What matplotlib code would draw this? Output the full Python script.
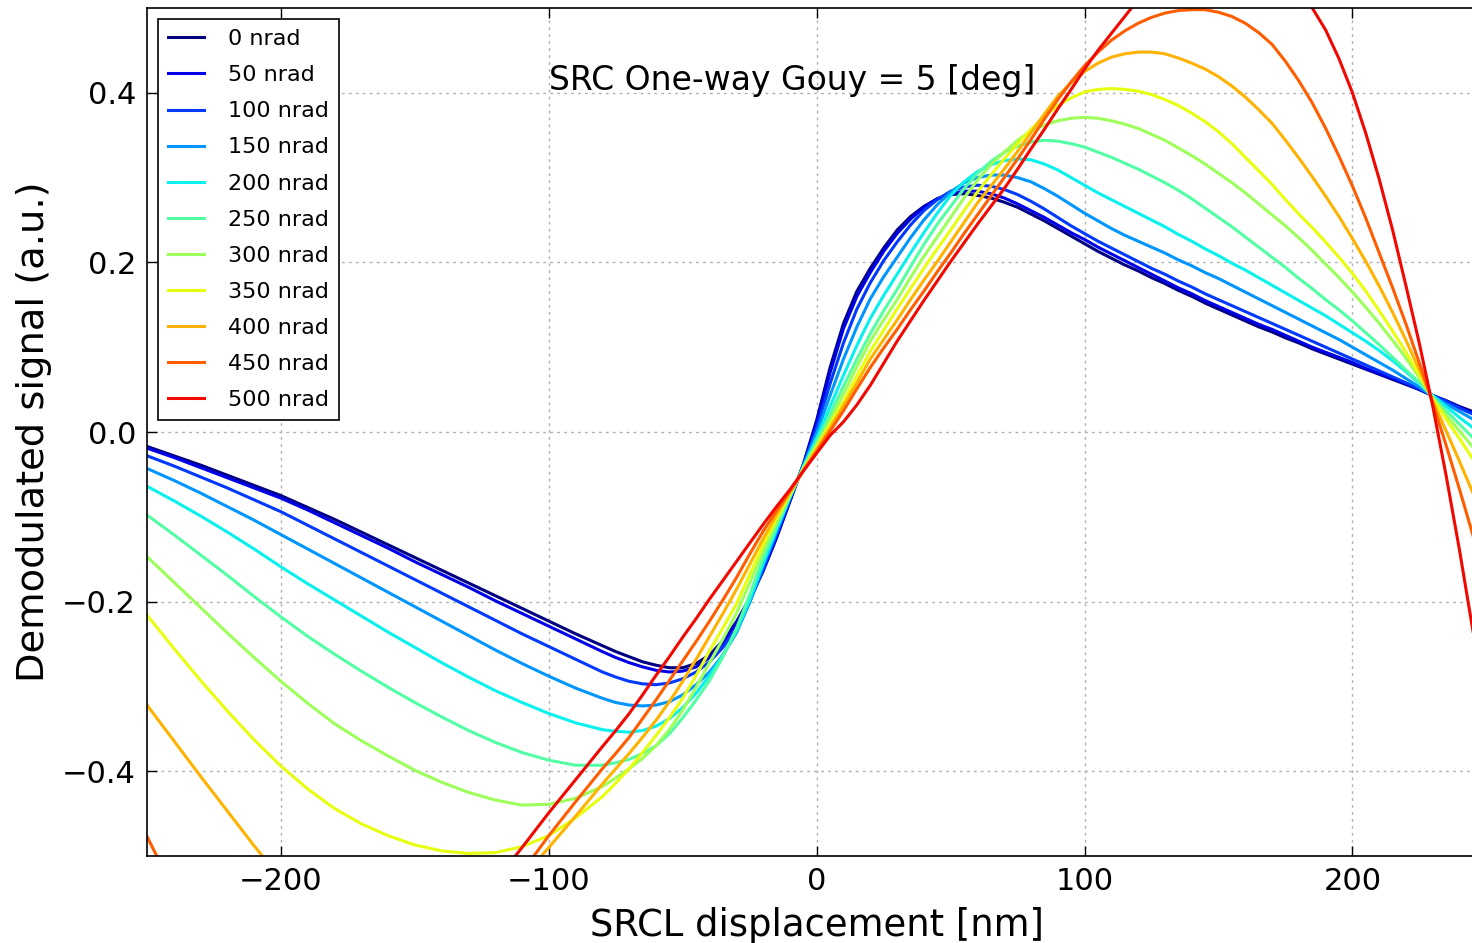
import matplotlib
matplotlib.use("Agg")
import matplotlib.pyplot as plt
import numpy as np

# SRCL displacement sample points [nm]; denser where the curves bend
x_nm = list(range(-250, -79, 10)) + list(range(-75, 251, 5))

# demodulated signal, one list per misalignment
s000 = [-0.017, -0.028, -0.039, -0.051, -0.063, -0.075, -0.089, -0.103, -0.118, -0.133,
        -0.148, -0.163, -0.178, -0.193, -0.208, -0.223, -0.238, -0.252,
        -0.259, -0.265, -0.271, -0.275, -0.278, -0.278, -0.273, -0.263, -0.246, -0.224,
        -0.196, -0.163, -0.124, -0.082, -0.038, 0.014, 0.076, 0.128, 0.166, 0.193,
        0.217, 0.238, 0.254, 0.266, 0.275, 0.280, 0.281, 0.279, 0.276, 0.271,
        0.265, 0.257, 0.249, 0.240, 0.231,
        0.222, 0.213, 0.205, 0.197, 0.190, 0.182, 0.175, 0.167, 0.160, 0.152,
        0.145, 0.138, 0.131, 0.124, 0.118,
        0.111, 0.105, 0.098, 0.092, 0.086, 0.080, 0.074, 0.068, 0.062, 0.056,
        0.050, 0.043, 0.037, 0.030, 0.024, 0.017]
s050 = [-0.019, -0.030, -0.042, -0.054, -0.066, -0.078, -0.092, -0.107, -0.122, -0.137,
        -0.153, -0.168, -0.183, -0.199, -0.214, -0.229, -0.244, -0.259,
        -0.266, -0.272, -0.277, -0.281, -0.283, -0.282, -0.277, -0.266, -0.249, -0.226,
        -0.198, -0.164, -0.125, -0.081, -0.039, 0.011, 0.070, 0.122, 0.160, 0.188,
        0.213, 0.234, 0.251, 0.265, 0.275, 0.281, 0.284, 0.284, 0.281, 0.276,
        0.269, 0.261, 0.253, 0.244, 0.235,
        0.227, 0.218, 0.210, 0.202, 0.194, 0.186, 0.178, 0.170, 0.163, 0.155,
        0.148, 0.141, 0.134, 0.127, 0.121,
        0.114, 0.107, 0.100, 0.094, 0.088, 0.082, 0.075, 0.069, 0.063, 0.057,
        0.050, 0.043, 0.036, 0.029, 0.022, 0.015]
s100 = [-0.028, -0.040, -0.053, -0.066, -0.080, -0.094, -0.110, -0.126, -0.142, -0.158,
        -0.174, -0.190, -0.206, -0.222, -0.238, -0.253, -0.268, -0.283,
        -0.289, -0.294, -0.297, -0.298, -0.296, -0.291, -0.283, -0.271, -0.254, -0.232,
        -0.200, -0.162, -0.121, -0.079, -0.039, 0.005, 0.057, 0.105, 0.145, 0.176,
        0.202, 0.224, 0.244, 0.261, 0.274, 0.284, 0.289, 0.291, 0.290, 0.286,
        0.280, 0.272, 0.263, 0.253, 0.243,
        0.234, 0.225, 0.217, 0.209, 0.201, 0.193, 0.186, 0.178, 0.171, 0.163,
        0.156, 0.149, 0.142, 0.135, 0.128,
        0.121, 0.114, 0.107, 0.100, 0.093, 0.086, 0.079, 0.072, 0.065, 0.058,
        0.051, 0.043, 0.036, 0.028, 0.021, 0.013]
s150 = [-0.043, -0.057, -0.072, -0.088, -0.104, -0.121, -0.138, -0.155, -0.172, -0.189,
        -0.206, -0.223, -0.240, -0.257, -0.273, -0.288, -0.302, -0.314,
        -0.319, -0.322, -0.323, -0.322, -0.318, -0.310, -0.298, -0.283, -0.263, -0.237,
        -0.201, -0.158, -0.118, -0.078, -0.040, -0.001, 0.043, 0.086, 0.124, 0.157,
        0.183, 0.206, 0.229, 0.250, 0.268, 0.283, 0.294, 0.300, 0.303, 0.303,
        0.300, 0.295, 0.287, 0.278, 0.268,
        0.258, 0.249, 0.240, 0.232, 0.225, 0.218, 0.211, 0.203, 0.196, 0.188,
        0.181, 0.173, 0.165, 0.157, 0.149,
        0.141, 0.133, 0.125, 0.117, 0.109, 0.100, 0.091, 0.082, 0.073, 0.063,
        0.053, 0.042, 0.033, 0.024, 0.015, 0.006]
s200 = [-0.064, -0.081, -0.099, -0.118, -0.138, -0.159, -0.179, -0.198, -0.217, -0.236,
        -0.254, -0.272, -0.289, -0.305, -0.319, -0.332, -0.343, -0.351,
        -0.353, -0.354, -0.352, -0.347, -0.338, -0.325, -0.308, -0.287, -0.263, -0.235,
        -0.198, -0.155, -0.115, -0.077, -0.041, -0.007, 0.030, 0.067, 0.102, 0.134,
        0.161, 0.186, 0.211, 0.235, 0.258, 0.279, 0.295, 0.307, 0.315, 0.320,
        0.322, 0.321, 0.316, 0.309, 0.300,
        0.291, 0.282, 0.274, 0.266, 0.258, 0.250, 0.242, 0.233, 0.225, 0.216,
        0.208, 0.199, 0.191, 0.182, 0.173,
        0.164, 0.155, 0.146, 0.137, 0.127, 0.117, 0.107, 0.096, 0.084, 0.071,
        0.057, 0.043, 0.030, 0.017, 0.005, -0.007]
s250 = [-0.098, -0.121, -0.145, -0.169, -0.194, -0.218, -0.241, -0.262, -0.282, -0.301,
        -0.319, -0.336, -0.352, -0.366, -0.378, -0.387, -0.393, -0.393,
        -0.390, -0.386, -0.379, -0.370, -0.356, -0.337, -0.316, -0.293, -0.265, -0.232,
        -0.192, -0.149, -0.111, -0.076, -0.042, -0.011, 0.021, 0.054, 0.086, 0.116,
        0.143, 0.168, 0.195, 0.221, 0.245, 0.266, 0.287, 0.305, 0.319, 0.330,
        0.337, 0.342, 0.344, 0.343, 0.340,
        0.336, 0.330, 0.324, 0.317, 0.310, 0.302, 0.294, 0.285, 0.275, 0.264,
        0.253, 0.242, 0.230, 0.218, 0.206,
        0.194, 0.181, 0.169, 0.156, 0.144, 0.131, 0.117, 0.103, 0.088, 0.073,
        0.058, 0.041, 0.025, 0.009, -0.007, -0.023]
s300 = [-0.147, -0.177, -0.207, -0.237, -0.266, -0.294, -0.320, -0.344, -0.364, -0.382,
        -0.399, -0.413, -0.425, -0.434, -0.440, -0.439, -0.432, -0.418,
        -0.408, -0.397, -0.385, -0.370, -0.351, -0.328, -0.301, -0.272, -0.244, -0.214,
        -0.178, -0.141, -0.107, -0.074, -0.043, -0.015, 0.014, 0.045, 0.077, 0.107,
        0.132, 0.156, 0.182, 0.207, 0.230, 0.253, 0.276, 0.297, 0.315, 0.330,
        0.344, 0.355, 0.362, 0.367, 0.370,
        0.371, 0.370, 0.367, 0.363, 0.358, 0.351, 0.344, 0.335, 0.326, 0.316,
        0.305, 0.294, 0.282, 0.269, 0.256,
        0.243, 0.229, 0.214, 0.198, 0.182, 0.165, 0.147, 0.128, 0.108, 0.087,
        0.064, 0.040, 0.020, 0.001, -0.018, -0.037]
s350 = [-0.216, -0.255, -0.293, -0.329, -0.363, -0.394, -0.421, -0.444, -0.462, -0.476,
        -0.487, -0.494, -0.497, -0.496, -0.489, -0.476, -0.455, -0.430,
        -0.414, -0.397, -0.378, -0.358, -0.337, -0.314, -0.287, -0.258, -0.231, -0.203,
        -0.168, -0.133, -0.102, -0.073, -0.045, -0.018, 0.009, 0.036, 0.066, 0.095,
        0.120, 0.145, 0.169, 0.193, 0.216, 0.238, 0.261, 0.283, 0.303, 0.322,
        0.340, 0.357, 0.372, 0.385, 0.394,
        0.401, 0.404, 0.405, 0.404, 0.402, 0.398, 0.392, 0.385, 0.376, 0.366,
        0.354, 0.340, 0.324, 0.308, 0.292,
        0.274, 0.257, 0.241, 0.224, 0.206, 0.187, 0.166, 0.143, 0.119, 0.094,
        0.067, 0.039, 0.015, -0.008, -0.032, -0.056]
s400 = [-0.322, -0.364, -0.406, -0.447, -0.488, -0.527, -0.560, -0.585, -0.600, -0.607,
        -0.605, -0.595, -0.582, -0.558, -0.526, -0.490, -0.453, -0.415,
        -0.397, -0.379, -0.360, -0.340, -0.318, -0.294, -0.268, -0.241, -0.214, -0.186,
        -0.156, -0.126, -0.098, -0.071, -0.045, -0.020, 0.005, 0.031, 0.058, 0.086,
        0.109, 0.132, 0.156, 0.179, 0.201, 0.224, 0.247, 0.270, 0.290, 0.310,
        0.331, 0.353, 0.375, 0.396, 0.412,
        0.425, 0.435, 0.442, 0.446, 0.448, 0.448, 0.446, 0.441, 0.435, 0.428,
        0.419, 0.408, 0.395, 0.380, 0.364,
        0.344, 0.323, 0.301, 0.278, 0.254, 0.228, 0.201, 0.172, 0.141, 0.108,
        0.073, 0.037, 0.001, -0.035, -0.072, -0.110]
s450 = [-0.477, -0.540, -0.600, -0.650, -0.690, -0.720, -0.740, -0.750, -0.750, -0.740,
        -0.715, -0.675, -0.625, -0.570, -0.519, -0.476, -0.436, -0.397,
        -0.379, -0.360, -0.338, -0.316, -0.293, -0.270, -0.247, -0.223, -0.198, -0.172,
        -0.144, -0.117, -0.093, -0.070, -0.046, -0.023, 0.001, 0.025, 0.051, 0.076,
        0.099, 0.121, 0.144, 0.166, 0.189, 0.211, 0.234, 0.256, 0.278, 0.300,
        0.322, 0.345, 0.369, 0.392, 0.413,
        0.432, 0.448, 0.462, 0.473, 0.482, 0.489, 0.494, 0.497, 0.498, 0.498,
        0.495, 0.490, 0.482, 0.471, 0.457,
        0.437, 0.414, 0.388, 0.358, 0.325, 0.290, 0.252, 0.211, 0.170, 0.127,
        0.081, 0.034, -0.016, -0.068, -0.122, -0.178]
s500 = [-1.050, -1.010, -0.970, -0.930, -0.890, -0.850, -0.810, -0.770, -0.730, -0.690,
        -0.650, -0.610, -0.570, -0.530, -0.490, -0.449, -0.410, -0.371,
        -0.352, -0.332, -0.310, -0.287, -0.265, -0.242, -0.220, -0.197, -0.175, -0.153,
        -0.131, -0.109, -0.088, -0.068, -0.046, -0.025, -0.004, 0.012, 0.032, 0.055,
        0.081, 0.107, 0.131, 0.155, 0.178, 0.201, 0.223, 0.245, 0.266, 0.287,
        0.310, 0.334, 0.357, 0.381, 0.404,
        0.428, 0.450, 0.470, 0.490, 0.510, 0.527, 0.543, 0.555, 0.565, 0.571,
        0.575, 0.575, 0.572, 0.564, 0.553,
        0.539, 0.521, 0.500, 0.474, 0.440, 0.400, 0.352, 0.298, 0.238, 0.172,
        0.104, 0.030, -0.052, -0.140, -0.235, -0.335]

curves = [s000, s050, s100, s150, s200, s250, s300, s350, s400, s450, s500]
labels = ['0 nrad', '50 nrad', '100 nrad', '150 nrad', '200 nrad', '250 nrad',
          '300 nrad', '350 nrad', '400 nrad', '450 nrad', '500 nrad']

colors = plt.cm.jet(np.linspace(0, 0.9, len(curves)))

fig = plt.figure(figsize=(14.72, 9.43), dpi=100)
# right edge of the axes sits just past the picture, as in the original crop
ax = fig.add_axes([147/1472, 1 - 856/943, (1486.4 - 147)/1472, (856 - 8)/943])

for y, lab, c in zip(curves, labels, colors):
    ax.plot(x_nm, y, color=c, linewidth=2.2, label=lab)

ax.set_xlim(-250, 250)
ax.set_ylim(-0.5, 0.5)
ax.set_xticks([-200, -100, 0, 100, 200])
ax.set_yticks([-0.4, -0.2, 0.0, 0.2, 0.4])
ax.tick_params(direction='in', top=True, right=True, length=7, width=1,
               labelsize=22, pad=8)
ax.grid(True, color='#b0b0b0', linestyle=(0, (2, 3)), linewidth=1)
for sp in ax.spines.values():
    sp.set_linewidth(1.2)

ax.set_xlabel('SRCL displacement [nm]', fontsize=26.6)
ax.set_ylabel('Demodulated signal (a.u.)', fontsize=27.6)
ax.xaxis.set_label_coords(0.5, -0.06)
ax.yaxis.set_label_coords(-0.071, 0.5)

ax.text(-9, 0.415, 'SRC One-way Gouy = 5 [deg]', fontsize=23.8,
        ha='center', va='center')

leg = ax.legend(loc='upper left', fontsize=16, handlelength=1.6,
                handletextpad=1.1, labelspacing=0.725, borderpad=0.45,
                borderaxespad=0.5, fancybox=False, framealpha=1,
                edgecolor='black')
leg.get_frame().set_linewidth(1.2)

fig.savefig('out.png', dpi=100)
